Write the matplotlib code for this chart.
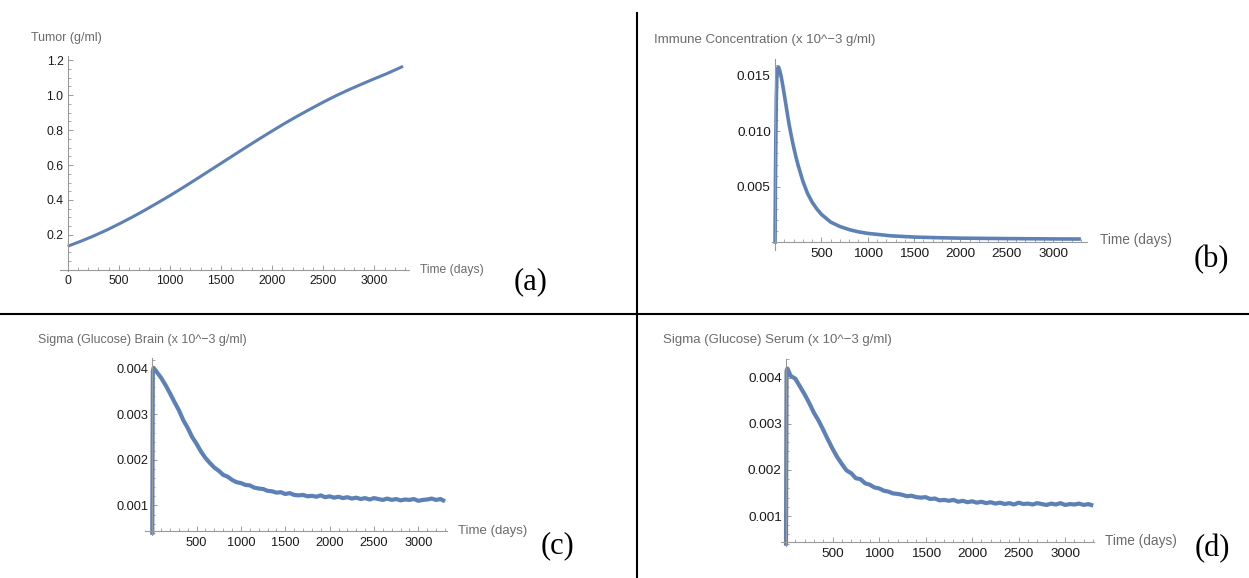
import numpy as np
import matplotlib
matplotlib.use("Agg")
import matplotlib.pyplot as plt
from matplotlib.lines import Line2D
from matplotlib.ticker import MultipleLocator, FixedLocator, FormatStrFormatter

plt.rcParams['font.family'] = ['Liberation Sans', 'DejaVu Sans']

W, H = 1249, 578
LINE = '#5e81b5'
AXC = '#9a9a9a'
LBL = '#6b6b6b'

# Data
tumor_t = [0, 125, 250, 375, 500, 625, 750, 875, 1000, 1125, 1250, 1375, 1500, 1625,
           1750, 1875, 2000, 2125, 2250, 2375, 2500, 2625, 2750, 2875, 3000, 3125, 3280]
tumor_v = [0.135, 0.163, 0.193, 0.226, 0.262, 0.300, 0.340, 0.382, 0.425, 0.470, 0.516,
           0.563, 0.610, 0.657, 0.704, 0.750, 0.795, 0.839, 0.881, 0.921, 0.960, 0.997,
           1.031, 1.063, 1.094, 1.124, 1.165]

immune_t = [0, 3, 8, 14, 20, 28, 38, 50, 65, 80, 100, 125, 150, 175, 200, 225, 250, 300,
            350, 400, 450, 500, 600, 700, 800, 900, 1000, 1250, 1500, 1750, 2000, 2500,
            3000, 3280]
immune_v = [0.0, 0.004, 0.009, 0.0130, 0.0150, 0.0157, 0.0158, 0.0155, 0.0150, 0.0143,
            0.0133, 0.0120, 0.0107, 0.0096, 0.0086, 0.0077, 0.0069, 0.0055, 0.0044,
            0.0036, 0.0030, 0.0025, 0.0018, 0.00140, 0.00112, 0.00092, 0.00078, 0.00056,
            0.00045, 0.00039, 0.00035, 0.00031, 0.00028, 0.00027]

gluc_t = [0, 6, 15] + list(range(50, 3251, 50)) + [3280]

brain_v = [0.00040, 0.00395, 0.00402,
           0.00393, 0.00380, 0.00364, 0.00346, 0.00327, 0.00309, 0.00287, 0.00270,
           0.00250, 0.00235, 0.00218, 0.00204, 0.00193, 0.00183, 0.00176, 0.00167,
           0.00163, 0.00156, 0.00151, 0.00149, 0.00145, 0.00144, 0.00139, 0.00137,
           0.00136, 0.00132, 0.00131, 0.00128, 0.00129, 0.00125, 0.00127, 0.00123,
           0.00122, 0.00123, 0.00120, 0.00121, 0.00119, 0.00122, 0.00118, 0.00120,
           0.00117, 0.00119, 0.00116, 0.00118, 0.00115, 0.00117, 0.00114, 0.00116,
           0.00113, 0.00116, 0.00114, 0.00112, 0.00115, 0.00112, 0.00114, 0.00111,
           0.00113, 0.00112, 0.00114, 0.00110, 0.00112, 0.00113, 0.00115, 0.00112,
           0.00114, 0.00111]

serum_v = [0.00040, 0.00415, 0.00420,
           0.00404, 0.00398, 0.00381, 0.00364, 0.00345, 0.00324, 0.00307, 0.00287,
           0.00266, 0.00246, 0.00228, 0.00213, 0.00199, 0.00193, 0.00182, 0.00180,
           0.00171, 0.00168, 0.00162, 0.00160, 0.00155, 0.00153, 0.00149, 0.00148,
           0.00146, 0.00143, 0.00144, 0.00141, 0.00140, 0.00141, 0.00137, 0.00138,
           0.00134, 0.00135, 0.00133, 0.00135, 0.00131, 0.00133, 0.00130, 0.00132,
           0.00129, 0.00131, 0.00128, 0.00130, 0.00127, 0.00129, 0.00126, 0.00128,
           0.00125, 0.00129, 0.00126, 0.00127, 0.00125, 0.00128, 0.00126, 0.00124,
           0.00127, 0.00125, 0.00128, 0.00124, 0.00126, 0.00125, 0.00127, 0.00124,
           0.00126, 0.00124]

fig = plt.figure(figsize=(W / 100, H / 100), dpi=100)


def make_ax(l, r, t, b, xlim, ylim, ybase, xmajor, ymajor, xminor, yminor, fmt, fs):
    ax = fig.add_axes([l / W, 1 - b / H, (r - l) / W, (b - t) / H])
    ax.set_xlim(*xlim)
    ax.set_ylim(*ylim)
    for s in ['top', 'right']:
        ax.spines[s].set_visible(False)
    ax.spines['left'].set_position(('data', 0))
    ax.spines['bottom'].set_position(('data', ybase))
    for s in ['left', 'bottom']:
        ax.spines[s].set_color(AXC)
        ax.spines[s].set_linewidth(0.8)
    ax.xaxis.set_major_locator(FixedLocator(xmajor))
    ax.xaxis.set_minor_locator(MultipleLocator(xminor))
    ax.yaxis.set_major_locator(FixedLocator(ymajor))
    ax.yaxis.set_minor_locator(MultipleLocator(yminor))
    ax.yaxis.set_major_formatter(FormatStrFormatter(fmt))
    ax.tick_params(which='both', direction='in', colors=AXC, labelcolor='#1a1a1a',
                   labelsize=fs)
    ax.tick_params(which='major', length=3.5, width=0.7)
    ax.tick_params(which='minor', length=2, width=0.6)
    ax.tick_params(axis='x', pad=4)
    ax.tick_params(axis='y', pad=3)
    ax.patch.set_alpha(0)
    return ax


# (a) Tumor
ax = make_ax(60, 409.3, 56, 271, (-75, 3341), (-0.0065, 1.224), 0.0,
             [0, 500, 1000, 1500, 2000, 2500, 3000], [0.2, 0.4, 0.6, 0.8, 1.0, 1.2],
             100, 0.05, '%.1f', 8.7)
ax.plot(tumor_t, tumor_v, color=LINE, lw=2.2, solid_capstyle='butt')

# (b) Immune
ax = make_ax(771.7, 1086.7, 59.3, 250, (-36, 3362), (-0.00072, 0.0165), 0.0,
             [500, 1000, 1500, 2000, 2500, 3000], [0.005, 0.010, 0.015],
             100, 0.001, '%.3f', 9.7)
ax.plot(immune_t, immune_v, color=LINE, lw=2.6)

# (c) Brain
ax = make_ax(145, 446.7, 358.3, 535, (-82, 3320), (0.00035, 0.00423), 0.00043,
             [500, 1000, 1500, 2000, 2500, 3000], [0.001, 0.002, 0.003, 0.004],
             100, 0.0002, '%.3f', 9.2)
ax.plot(gluc_t, brain_v, color=LINE, lw=3.0)

# (d) Serum
ax = make_ax(780.7, 1094, 359.3, 546, (-57, 3310), (0.00035, 0.0044), 0.00043,
             [500, 1000, 1500, 2000, 2500, 3000], [0.001, 0.002, 0.003, 0.004],
             100, 0.0002, '%.3f', 9.7)
ax.plot(gluc_t, serum_v, color=LINE, lw=3.0)


def txt(x, y, s, **kw):
    fig.text(x / W, 1 - y / H, s, **kw)


txt(31, 38, 'Tumor (g/ml)', fontsize=9, color=LBL, va='center')
txt(654, 40, 'Immune Concentration (x 10^\u22123 g/ml)', fontsize=9.5, color=LBL, va='center')
txt(38, 340, 'Sigma (Glucose) Brain (x 10^\u22123 g/ml)', fontsize=9, color=LBL, va='center')
txt(663, 340, 'Sigma (Glucose) Serum (x 10^\u22123 g/ml)', fontsize=9.5, color=LBL, va='center')

txt(420, 270, 'Time (days)', fontsize=8.7, color=LBL, va='center')
txt(1100, 240, 'Time (days)', fontsize=9.8, color=LBL, va='center')
txt(458, 531, 'Time (days)', fontsize=9.5, color=LBL, va='center')
txt(1105, 541, 'Time (days)', fontsize=9.8, color=LBL, va='center')

for x, y, s in [(531, 282, '(a)'), (1211, 260, '(b)'), (557, 546, '(c)'), (1212, 549, '(d)')]:
    txt(x, y, s, fontsize=22, family='Liberation Serif', color='black',
        ha='center', va='center')

# panel dividers
fig.add_artist(Line2D([637 / W, 637 / W], [1 - 12.7 / H, 0], color='black', lw=1.5))
fig.add_artist(Line2D([0, 1], [1 - 314 / H, 1 - 314 / H], color='black', lw=1.5))

fig.savefig('out.png', dpi=100)
